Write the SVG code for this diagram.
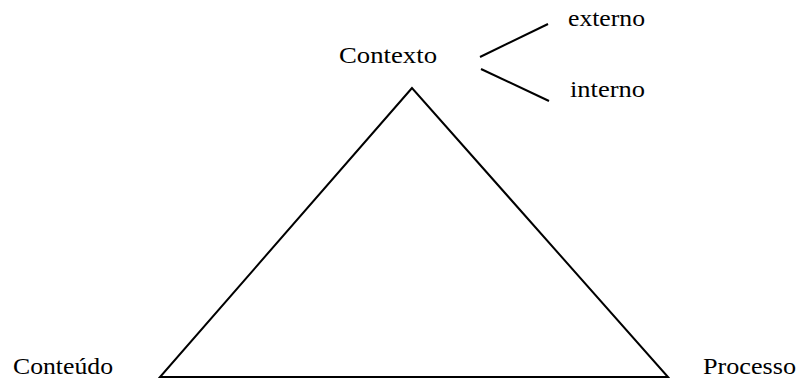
<svg xmlns="http://www.w3.org/2000/svg" width="799" height="380" viewBox="0 0 799 380">
<style>
text{font-family:"Liberation Serif","Times New Roman",serif;font-size:24px;fill:#000}
.ln{stroke:#000;stroke-width:2;fill:none}
</style>
<rect width="799" height="380" fill="#fff"/>
<g id="connectors">
<polygon class="ln" points="412,88 160,377 668,377"/>
<line class="ln" x1="480" y1="57" x2="548" y2="24"/>
<line class="ln" x1="481" y1="69" x2="549" y2="101"/>
</g>
<g id="contexto"><text x="339" y="63" textLength="98" lengthAdjust="spacingAndGlyphs">Contexto</text></g>
<g id="externo"><text x="568" y="26" textLength="77" lengthAdjust="spacingAndGlyphs">externo</text></g>
<g id="interno"><text x="570" y="97" textLength="75" lengthAdjust="spacingAndGlyphs">interno</text></g>
<g id="conteudo"><text x="13" y="374" textLength="100" lengthAdjust="spacingAndGlyphs">Conteúdo</text></g>
<g id="processo"><text x="703" y="374" textLength="93" lengthAdjust="spacingAndGlyphs">Processo</text></g>
</svg>
